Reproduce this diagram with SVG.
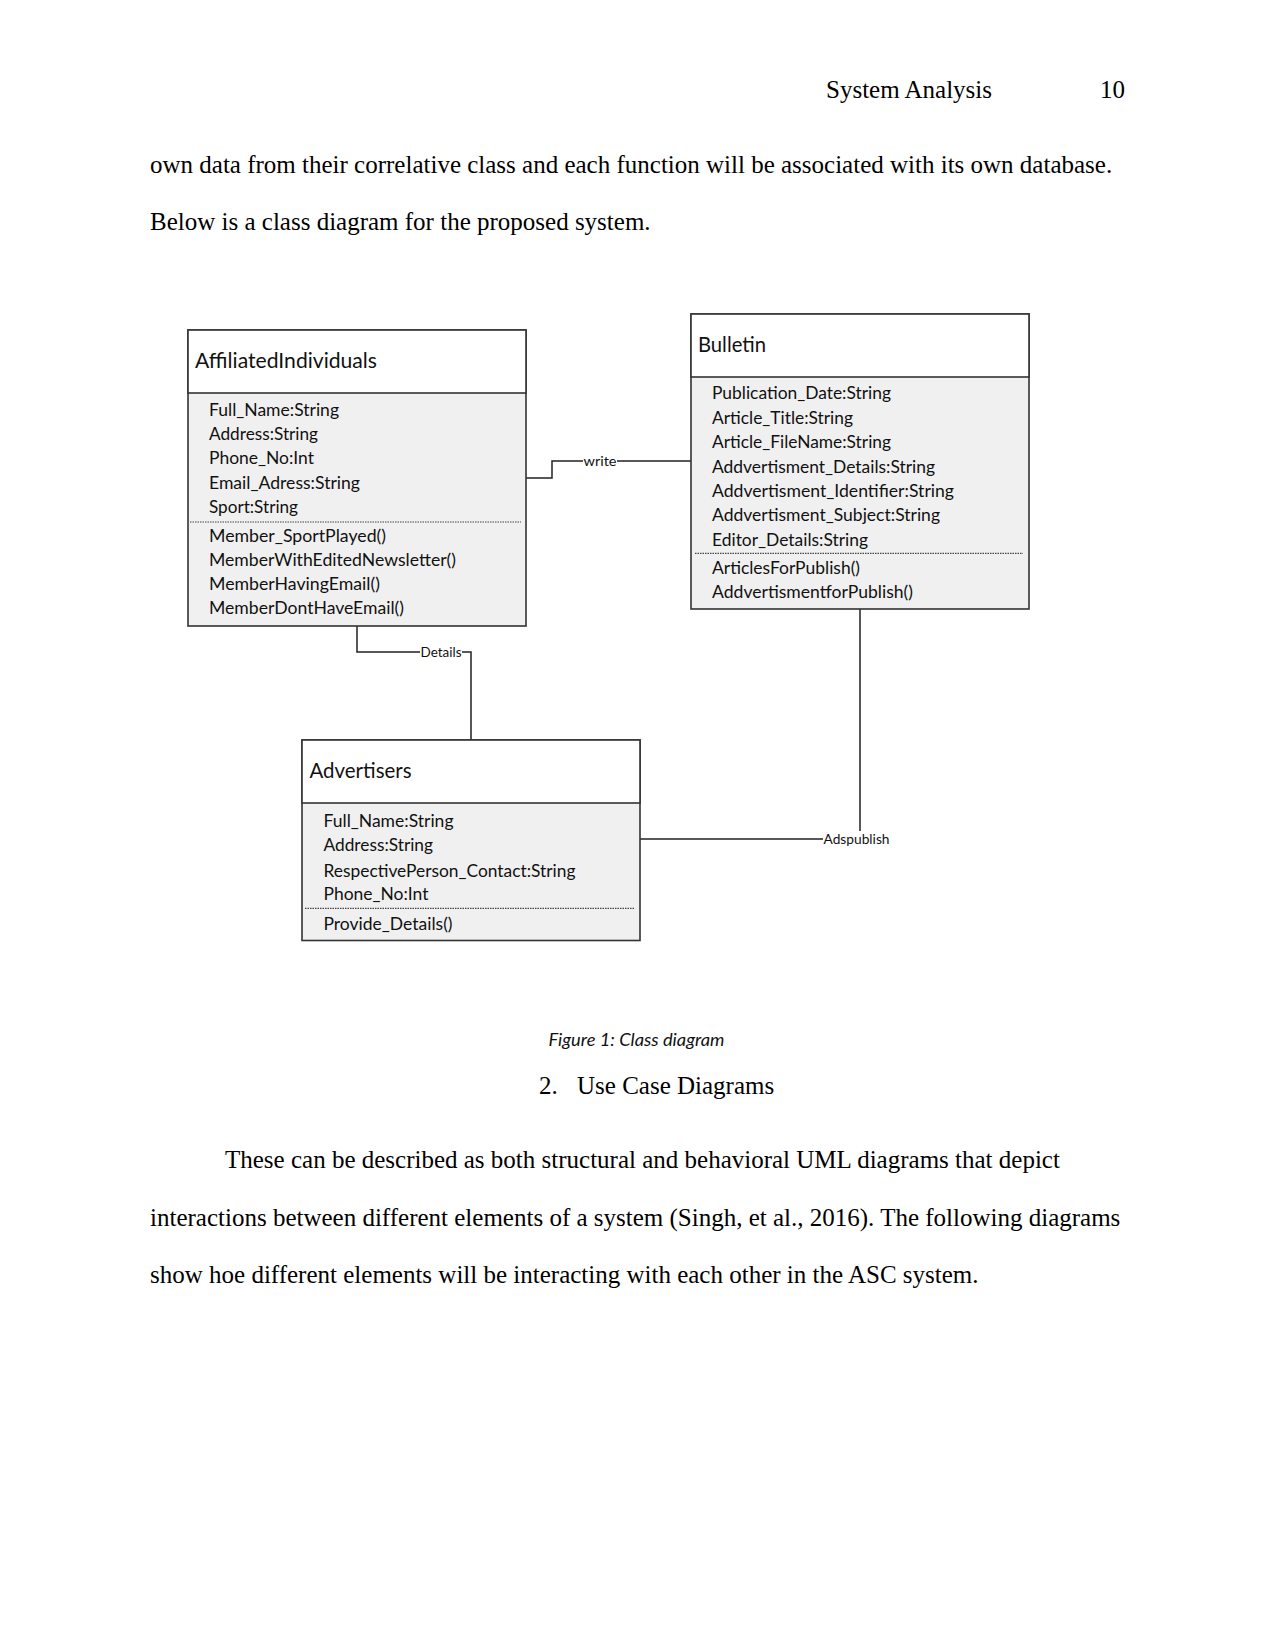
<svg xmlns="http://www.w3.org/2000/svg" width="1275" height="1651" viewBox="0 0 1275 1651">
<style>
.page{font-family:"Liberation Serif","Times New Roman",serif;font-size:25px;fill:#000}
.t{font-family:Lato,"Liberation Sans",sans-serif;font-size:21px;fill:#111}
.a{font-family:Lato,"Liberation Sans",sans-serif;font-size:17px;fill:#111}
.lbl{font-family:Lato,"Liberation Sans",sans-serif;font-size:13px;fill:#111}
.cap{font-family:Lato,"Liberation Sans",sans-serif;font-size:17px;font-style:italic;fill:#111}
.box{fill:#f0f0f0;stroke:#333;stroke-width:1.6}
.hdr{fill:#fff;stroke:#333;stroke-width:1.6}
.dash{stroke:#444;stroke-width:1.2;stroke-dasharray:1.5 1}
.conn{fill:none;stroke:#222;stroke-width:1.5}
.lblbg{fill:#fff}
</style>
<rect width="1275" height="1651" fill="#fff"/>
<g id="page-text">
<text class="page" x="826" y="98">System Analysis</text>
<text class="page" x="1100" y="98">10</text>
<text class="page" x="150" y="172.5">own data from their correlative class and each function will be associated with its own database.</text>
<text class="page" x="150" y="230">Below is a class diagram for the proposed system.</text>
<text class="cap" x="548.5" y="1045.5" textLength="176" lengthAdjust="spacingAndGlyphs">Figure 1: Class diagram</text>
<text class="page" x="539" y="1094">2.</text>
<text class="page" x="577" y="1094">Use Case Diagrams</text>
<text class="page" x="225" y="1168">These can be described as both structural and behavioral UML diagrams that depict</text>
<text class="page" x="150" y="1225.5">interactions between different elements of a system (Singh, et al., 2016). The following diagrams</text>
<text class="page" x="150" y="1283">show hoe different elements will be interacting with each other in the ASC system.</text>
</g>
<g id="connectors">
<polyline class="conn" points="526,478 552,478 552,461 691,461"/>
<rect class="lblbg" x="583" y="454" width="34" height="14"/>
<text class="lbl" x="583.5" y="465.5" textLength="33" lengthAdjust="spacingAndGlyphs">write</text>
<polyline class="conn" points="357,626 357,652 471,652 471,740"/>
<rect class="lblbg" x="420" y="645" width="42" height="14"/>
<text class="lbl" x="420.5" y="656.5" textLength="41" lengthAdjust="spacingAndGlyphs">Details</text>
<polyline class="conn" points="640,839 860,839 860,609"/>
<rect class="lblbg" x="823" y="831" width="67" height="15"/>
<text class="lbl" x="823.5" y="843.5" textLength="66" lengthAdjust="spacingAndGlyphs">Adspublish</text>
</g>
<g id="AffiliatedIndividuals">
<rect class="box" x="188" y="330" width="338" height="296"/>
<rect class="hdr" x="188" y="330" width="338" height="63"/>
<text class="t" x="195" y="368.3" textLength="182" lengthAdjust="spacingAndGlyphs">AffiliatedIndividuals</text>
<text class="a" x="209" y="415.5" textLength="130" lengthAdjust="spacingAndGlyphs">Full_Name:String</text>
<text class="a" x="209" y="439.9" textLength="109" lengthAdjust="spacingAndGlyphs">Address:String</text>
<text class="a" x="209" y="464.3" textLength="105" lengthAdjust="spacingAndGlyphs">Phone_No:Int</text>
<text class="a" x="209" y="488.7" textLength="151" lengthAdjust="spacingAndGlyphs">Email_Adress:String</text>
<text class="a" x="209" y="513.1" textLength="89" lengthAdjust="spacingAndGlyphs">Sport:String</text>
<line class="dash" x1="190" y1="522" x2="521" y2="522"/>
<text class="a" x="209" y="541.7" textLength="177" lengthAdjust="spacingAndGlyphs">Member_SportPlayed()</text>
<text class="a" x="209" y="565.9" textLength="247" lengthAdjust="spacingAndGlyphs">MemberWithEditedNewsletter()</text>
<text class="a" x="209" y="590.1" textLength="171" lengthAdjust="spacingAndGlyphs">MemberHavingEmail()</text>
<text class="a" x="209" y="614.3" textLength="195" lengthAdjust="spacingAndGlyphs">MemberDontHaveEmail()</text>
</g>
<g id="Bulletin">
<rect class="box" x="691" y="314" width="338" height="295"/>
<rect class="hdr" x="691" y="314" width="338" height="63"/>
<text class="t" x="698" y="351.7" textLength="68" lengthAdjust="spacingAndGlyphs">Bulletin</text>
<text class="a" x="712" y="399.3" textLength="179" lengthAdjust="spacingAndGlyphs">Publication_Date:String</text>
<text class="a" x="712" y="423.7" textLength="141" lengthAdjust="spacingAndGlyphs">Article_Title:String</text>
<text class="a" x="712" y="448.1" textLength="179" lengthAdjust="spacingAndGlyphs">Article_FileName:String</text>
<text class="a" x="712" y="472.5" textLength="223" lengthAdjust="spacingAndGlyphs">Addvertisment_Details:String</text>
<text class="a" x="712" y="496.9" textLength="242" lengthAdjust="spacingAndGlyphs">Addvertisment_Identifier:String</text>
<text class="a" x="712" y="521.3" textLength="228" lengthAdjust="spacingAndGlyphs">Addvertisment_Subject:String</text>
<text class="a" x="712" y="545.7" textLength="156" lengthAdjust="spacingAndGlyphs">Editor_Details:String</text>
<line class="dash" x1="695" y1="553.3" x2="1023" y2="553.3"/>
<text class="a" x="712" y="574" textLength="148" lengthAdjust="spacingAndGlyphs">ArticlesForPublish()</text>
<text class="a" x="712" y="598.3" textLength="201" lengthAdjust="spacingAndGlyphs">AddvertismentforPublish()</text>
</g>
<g id="Advertisers">
<rect class="box" x="302" y="740" width="338" height="200.5"/>
<rect class="hdr" x="302" y="740" width="338" height="63"/>
<text class="t" x="309.5" y="778.3" textLength="102" lengthAdjust="spacingAndGlyphs">Advertisers</text>
<text class="a" x="323.5" y="827.3" textLength="130" lengthAdjust="spacingAndGlyphs">Full_Name:String</text>
<text class="a" x="323.5" y="851" textLength="109.5" lengthAdjust="spacingAndGlyphs">Address:String</text>
<text class="a" x="323.5" y="876.5" textLength="252" lengthAdjust="spacingAndGlyphs">RespectivePerson_Contact:String</text>
<text class="a" x="323.5" y="900" textLength="105" lengthAdjust="spacingAndGlyphs">Phone_No:Int</text>
<line class="dash" x1="305" y1="908.3" x2="635" y2="908.3"/>
<text class="a" x="323.5" y="930" textLength="129" lengthAdjust="spacingAndGlyphs">Provide_Details()</text>
</g>
</svg>
